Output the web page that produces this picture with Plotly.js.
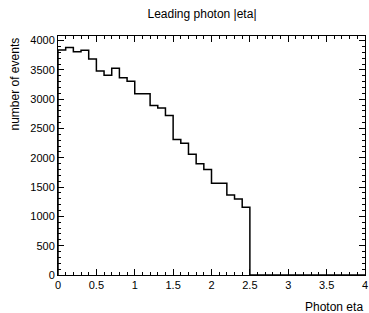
<!DOCTYPE html>
<html>
<head>
<meta charset="utf-8">
<script src="https://cdn.plot.ly/plotly-3.0.1.min.js"></script>
<style>html,body{margin:0;padding:0;background:#fff;}#chart{width:369px;height:313px;}</style>
</head>
<body>
<div id="chart"></div>
<script>
// Histogram: 40 bins of width 0.1 from 0 to 4
const binLow = 0;
const binWidth = 0.1;
const counts = [3842, 3885, 3812, 3836, 3685, 3484, 3409, 3528, 3368, 3305,
                3095, 3092, 2895, 2851, 2722, 2312, 2249, 2062, 1898, 1802,
                1564, 1564, 1365, 1297, 1158, 0, 0, 0, 0, 0,
                0, 0, 0, 0, 0, 0, 0, 0, 0, 0];
const xTickVals = [0, 0.5, 1, 1.5, 2, 2.5, 3, 3.5, 4];
const xTickText = ["0", "0.5", "1", "1.5", "2", "2.5", "3", "3.5", "4"];
const yTickVals = [0, 500, 1000, 1500, 2000, 2500, 3000, 3500, 4000];
const yTickText = ["0", "500", "1000", "1500", "2000", "2500", "3000", "3500", "4000"];

const xs = [], ys = [];
xs.push(binLow); ys.push(0);
counts.forEach((c, i) => { xs.push(binLow + i * binWidth); ys.push(c); });
xs.push(binLow + counts.length * binWidth); ys.push(counts[counts.length - 1]);

const font = "Liberation Sans, Arial, Helvetica, sans-serif";
const yMax = Math.max(...counts) * 1.05;

const axisCommon = {
  showgrid: false, zeroline: false, showline: true, linecolor: '#000', linewidth: 1,
  mirror: 'ticks', ticks: 'inside', ticklen: 6, tickcolor: '#000', tickwidth: 1,
  tickfont: {family: font, size: 11, color: '#000'}, tickmode: 'array', fixedrange: true
};

const layout = {
  width: 369, height: 313,
  margin: {l: 58, r: 4, t: 36, b: 38},
  paper_bgcolor: '#fff', plot_bgcolor: '#fff',
  showlegend: false,
  title: {text: 'Leading photon |eta|', font: {family: font, size: 12, color: '#000'},
          x: 202/369, xanchor: 'center', xref: 'container', y: 1 - 14/313, yanchor: 'middle', yref: 'container'},
  xaxis: Object.assign({}, axisCommon, {
    range: [0, 4], tickvals: xTickVals, ticktext: xTickText,
    minor: {dtick: 0.1, tick0: 0, ticks: 'inside', ticklen: 3, tickcolor: '#000', showgrid: false}
  }),
  yaxis: Object.assign({}, axisCommon, {
    range: [0, yMax], tickvals: yTickVals, ticktext: yTickText,
    minor: {dtick: 100, tick0: 0, ticks: 'inside', ticklen: 3, tickcolor: '#000', showgrid: false}
  }),
  annotations: [
    {text: 'Photon eta', xref: 'paper', yref: 'paper', x: 1, y: 0, xanchor: 'right', yanchor: 'top',
     yshift: -23, showarrow: false, font: {family: font, size: 12, color: '#000'}},
    {text: 'number of events', xref: 'paper', yref: 'paper', x: 0, y: 1, xanchor: 'center', yanchor: 'top',
     xshift: -44, textangle: -90, showarrow: false, font: {family: font, size: 12, color: '#000'}}
  ]
};

Plotly.newPlot('chart', [{
  type: 'scatter', mode: 'lines', x: xs, y: ys,
  line: {shape: 'hv', color: '#000', width: 1.5}, hoverinfo: 'skip'
}], layout, {staticPlot: true, displayModeBar: false});
</script>
</body>
</html>
